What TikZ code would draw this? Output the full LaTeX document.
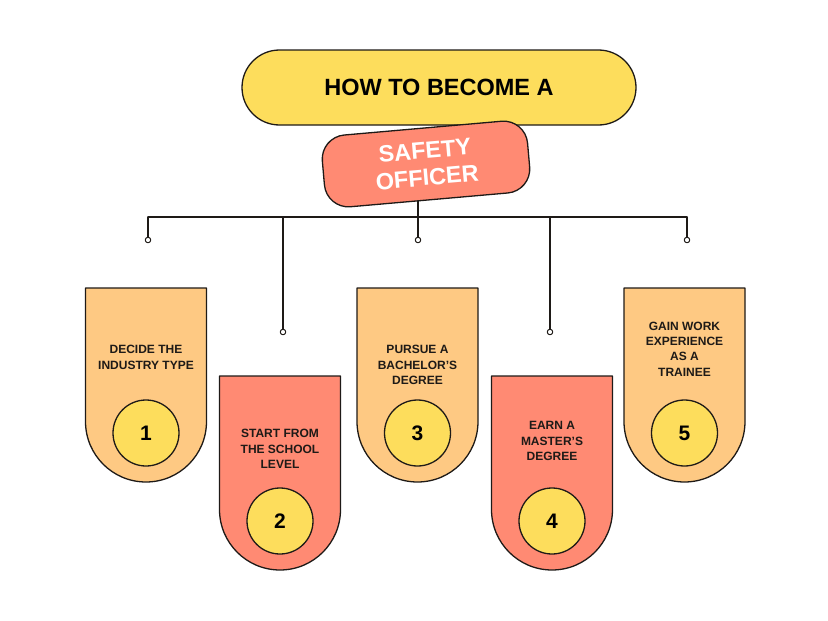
\documentclass[tikz,border=0pt]{standalone}
\usepackage{fontspec}
\setmainfont{Liberation Sans}
\usetikzlibrary{backgrounds}
\definecolor{ink}{HTML}{1E1A17}
\definecolor{banana}{HTML}{FDDD5C}
\definecolor{salmon}{HTML}{FF8A73}
\definecolor{peach}{HTML}{FEC983}
\tikzset{
  outline/.style={draw=ink, line width=1.3pt},
  knob/.style={circle, draw=ink, fill=white, line width=1pt, inner sep=0pt, minimum size=5.5pt},
  badge/.style={outline, circle, fill=banana, minimum size=66pt, inner sep=0pt, font=\bfseries\fontsize{21}{21}\selectfont},
  steptext/.style={align=center, text=ink, font=\bfseries\fontsize{12}{15.3}\selectfont}
}
\begin{document}
\begin{tikzpicture}[x=1pt, y=-1pt, line join=round, line cap=round]
		\useasboundingbox (0,0) rectangle (828,621);
		\node[outline, fill=banana, rounded corners=37.5pt, minimum width=394pt, minimum height=75pt, text=black,
		font=\bfseries\fontsize{23.5}{27}\selectfont] (title) at (439,87.5) {HOW TO BECOME A};
		\node[outline, fill=salmon, rounded corners=24pt, minimum width=206pt, minimum height=72pt, rotate=5,
		text=white, align=center, font=\bfseries\fontsize{23.5}{27}\selectfont] (officer) at (426,164) {SAFETY\\OFFICER};
		\coordinate (hub) at (418,217);
		\foreach \x/\y [count=\i] in {148/240, 283/332, 418/240, 550/332, 687/240}
			\node[knob] (d\i) at (\x,\y) {};
		\begin{scope}[on background layer]
			\draw[ink, line width=1.3pt] (officer.center -| hub) -- (hub);
		\end{scope}
		\draw[ink, line width=1.3pt] (d1 |- hub) -- (d5 |- hub);
		\foreach \i in {1,...,5}
			\draw[ink, line width=1.3pt] (d\i |- hub) -- (d\i.north);
		\foreach \x/\t/\col/\ty/\txt [count=\i] in {
			146/288/peach/357.5/{DECIDE THE\\INDUSTRY TYPE},
			280/376/salmon/449/{START FROM\\THE SCHOOL\\LEVEL},
			417.5/288/peach/365/{PURSUE A\\BACHELOR'S\\DEGREE},
			552/376/salmon/441/{EARN A\\MASTER'S\\DEGREE},
			684.5/288/peach/349/{GAIN WORK\\EXPERIENCE\\AS A\\TRAINEE}}
		{
			\draw[outline, fill=\col] (\x-60.5,\t) -- (\x-60.5,\t+133.5) arc (180:0:60.5) -- (\x+60.5,\t) -- cycle;
			\node[steptext] (step\i) at (\x,\ty) {\txt};
			\node[badge] (num\i) at (\x,\t+145) {\i};
		}
	\end{tikzpicture}
\end{document}
